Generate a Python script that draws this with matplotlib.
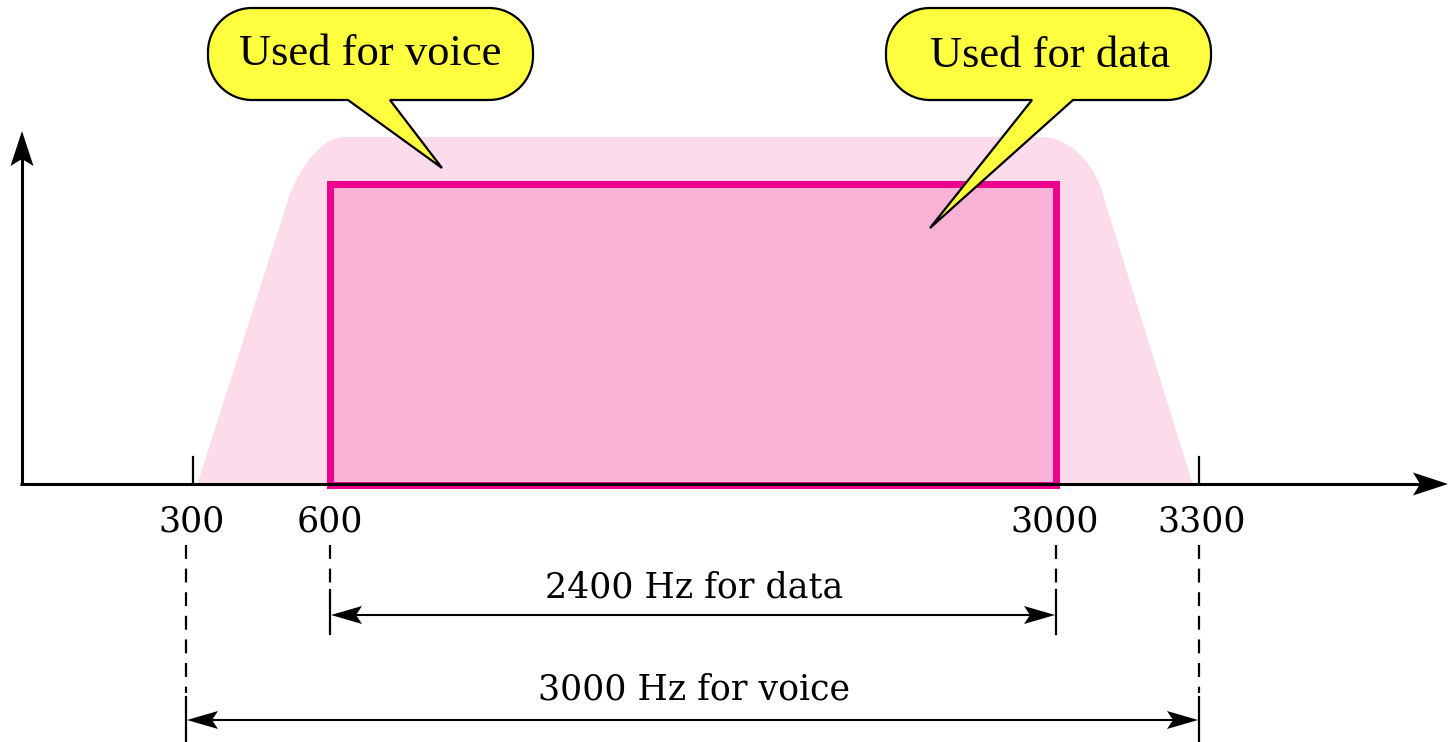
import numpy as np
import matplotlib
matplotlib.use("Agg")
import matplotlib.pyplot as plt
from matplotlib.patches import Polygon, Rectangle, PathPatch
from matplotlib.path import Path

# ---- data ----
freq_ticks = [300, 600, 3000, 3300]
tick_labels = ['300', '600', '3000', '3300']
diagram_x = [193, 330, 1056, 1199]      # schematic (not-to-scale) positions of the frequencies
voice_band = [300, 3300]
data_band = [600, 3000]
span_labels = ['2400 Hz for data', '3000 Hz for voice']
callout_labels = ['Used for voice', 'Used for data']

LIGHT_PINK = '#FCDBEB'
DARK_PINK = '#F7B2D6'
MAGENTA = '#EC008C'
YELLOW = '#FFFF40'

def fx(f):
    return float(np.interp(f, freq_ticks, diagram_x))

fig = plt.figure(figsize=(14.49, 7.42), dpi=100)
ax = fig.add_axes([0, 0, 1, 1])
ax.set_xlim(0, 1449)
ax.set_ylim(742, 0)
ax.axis('off')

BASE = 484

def head(tip, d, L, W, n, z=6):
    tip = np.array(tip, float)
    d = np.array(d, float); d /= np.linalg.norm(d)
    p = np.array([-d[1], d[0]])
    pts = [tip, tip - L * d + W * p, tip - (L - n) * d, tip - L * d - W * p]
    ax.add_patch(Polygon(pts, closed=True, fc='black', ec='none', zorder=z))

# ---- voice channel envelope (light pink) ----
vl, vr = fx(voice_band[0]) + 4, fx(voice_band[1]) - 6
verts = [(vl, BASE + 1), (288, 200), (296, 175), (318, 137), (345, 137),
         (1040, 137), (1068, 137), (1094, 160), (1104, 198),
         (vr, BASE + 1), (vl, BASE + 1)]
codes = [Path.MOVETO, Path.LINETO, Path.CURVE4, Path.CURVE4, Path.CURVE4,
         Path.LINETO, Path.CURVE4, Path.CURVE4, Path.CURVE4,
         Path.LINETO, Path.CLOSEPOLY]
ax.add_patch(PathPatch(Path(verts, codes), fc=LIGHT_PINK, ec='none', zorder=1))

# ---- data band rectangle ----
dl, dr = fx(data_band[0]), fx(data_band[1])
ax.add_patch(Rectangle((dl, 184), dr - dl, BASE + 1 - 184, fc=DARK_PINK,
                       ec=MAGENTA, lw=5, zorder=2))

# ---- axes ----
ax.plot([20, 1425], [BASE, BASE], color='black', lw=2.2, zorder=5, solid_capstyle='butt')
head((1448, BASE), (1, 0), 35, 11.5, 7)
ax.plot([22, 22], [BASE + 1, 150], color='black', lw=2.2, zorder=5, solid_capstyle='butt')
head((22, 131), (0, -1), 35, 11.5, 7)

# ticks at voice band edges
for f in voice_band:
    ax.plot([fx(f), fx(f)], [457, BASE], color='black', lw=1.6, zorder=5)

# tick labels
label_x = [192, 330, 1055, 1202]
for lx, lab in zip(label_x, tick_labels):
    ax.text(lx, 531, lab, ha='center', va='baseline', fontsize=25,
            family='DejaVu Serif', color='black', zorder=6)

# ---- dimension lines ----
dash = (0, (10 / 1.6, 7 / 1.6))
xv0, xv1 = fx(voice_band[0]) - 7, fx(voice_band[1])
xd0, xd1 = fx(data_band[0]), fx(data_band[1])
# data span
for x in (xd0, xd1):
    ax.plot([x, x], [545, 590], color='black', lw=1.6, linestyle=dash, zorder=5)
    ax.plot([x, x], [590, 634], color='black', lw=1.6, zorder=5)
y1 = 615
ax.plot([xd0 + 20, xd1 - 20], [y1, y1], color='black', lw=1.5, zorder=5)
head((xd0 + 1, y1), (-1, 0), 31, 9, 6)
head((xd1 - 1, y1), (1, 0), 31, 9, 6)
ax.text((xd0 + xd1) / 2 + 1, 598, span_labels[0], ha='center', va='baseline',
        fontsize=25, family='DejaVu Serif', color='black', zorder=6)
# voice span
for x in (xv0, xv1):
    ax.plot([x, x], [545, 693], color='black', lw=1.6, linestyle=dash, zorder=5)
    ax.plot([x, x], [697, 742], color='black', lw=1.6, zorder=5)
y2 = 720
ax.plot([xv0 + 20, xv1 - 20], [y2, y2], color='black', lw=1.5, zorder=5)
head((xv0 + 1, y2), (-1, 0), 31, 9, 6)
head((xv1 - 1, y2), (1, 0), 31, 9, 6)
ax.text((xv0 + xv1) / 2 + 1, 700, span_labels[1], ha='center', va='baseline',
        fontsize=25, family='DejaVu Serif', color='black', zorder=6)

# ---- callouts ----
K = 0.5523
def callout(x0, x1, y0, y1, r, bl, br, tip, text, tx, ty):
    k = r * K
    v = [(x0 + r, y0), (x1 - r, y0),
         (x1 - r + k, y0), (x1, y0 + r - k), (x1, y0 + r),
         (x1, y1 - r),
         (x1, y1 - r + k), (x1 - r + k, y1), (x1 - r, y1),
         (br, y1), tip, (bl, y1), (x0 + r, y1),
         (x0 + r - k, y1), (x0, y1 - r + k), (x0, y1 - r),
         (x0, y0 + r),
         (x0, y0 + r - k), (x0 + r - k, y0), (x0 + r, y0),
         (x0 + r, y0)]
    c = [Path.MOVETO, Path.LINETO,
         Path.CURVE4, Path.CURVE4, Path.CURVE4,
         Path.LINETO,
         Path.CURVE4, Path.CURVE4, Path.CURVE4,
         Path.LINETO, Path.LINETO, Path.LINETO, Path.LINETO,
         Path.CURVE4, Path.CURVE4, Path.CURVE4,
         Path.LINETO,
         Path.CURVE4, Path.CURVE4, Path.CURVE4,
         Path.CLOSEPOLY]
    ax.add_patch(PathPatch(Path(v, c), fc=YELLOW, ec='black', lw=1.6,
                           joinstyle='miter', zorder=8))
    ax.text(tx, ty, text, ha='center', va='baseline', fontsize=32,
            family='Liberation Serif', color='black', zorder=9)

callout(208, 533, 8, 100, 44, 348, 390, (442, 168), callout_labels[0], 370, 65)
callout(886, 1211, 8, 100, 44, 1032, 1073, (930, 228), callout_labels[1], 1050, 67)

fig.savefig('out.png', dpi=100)
